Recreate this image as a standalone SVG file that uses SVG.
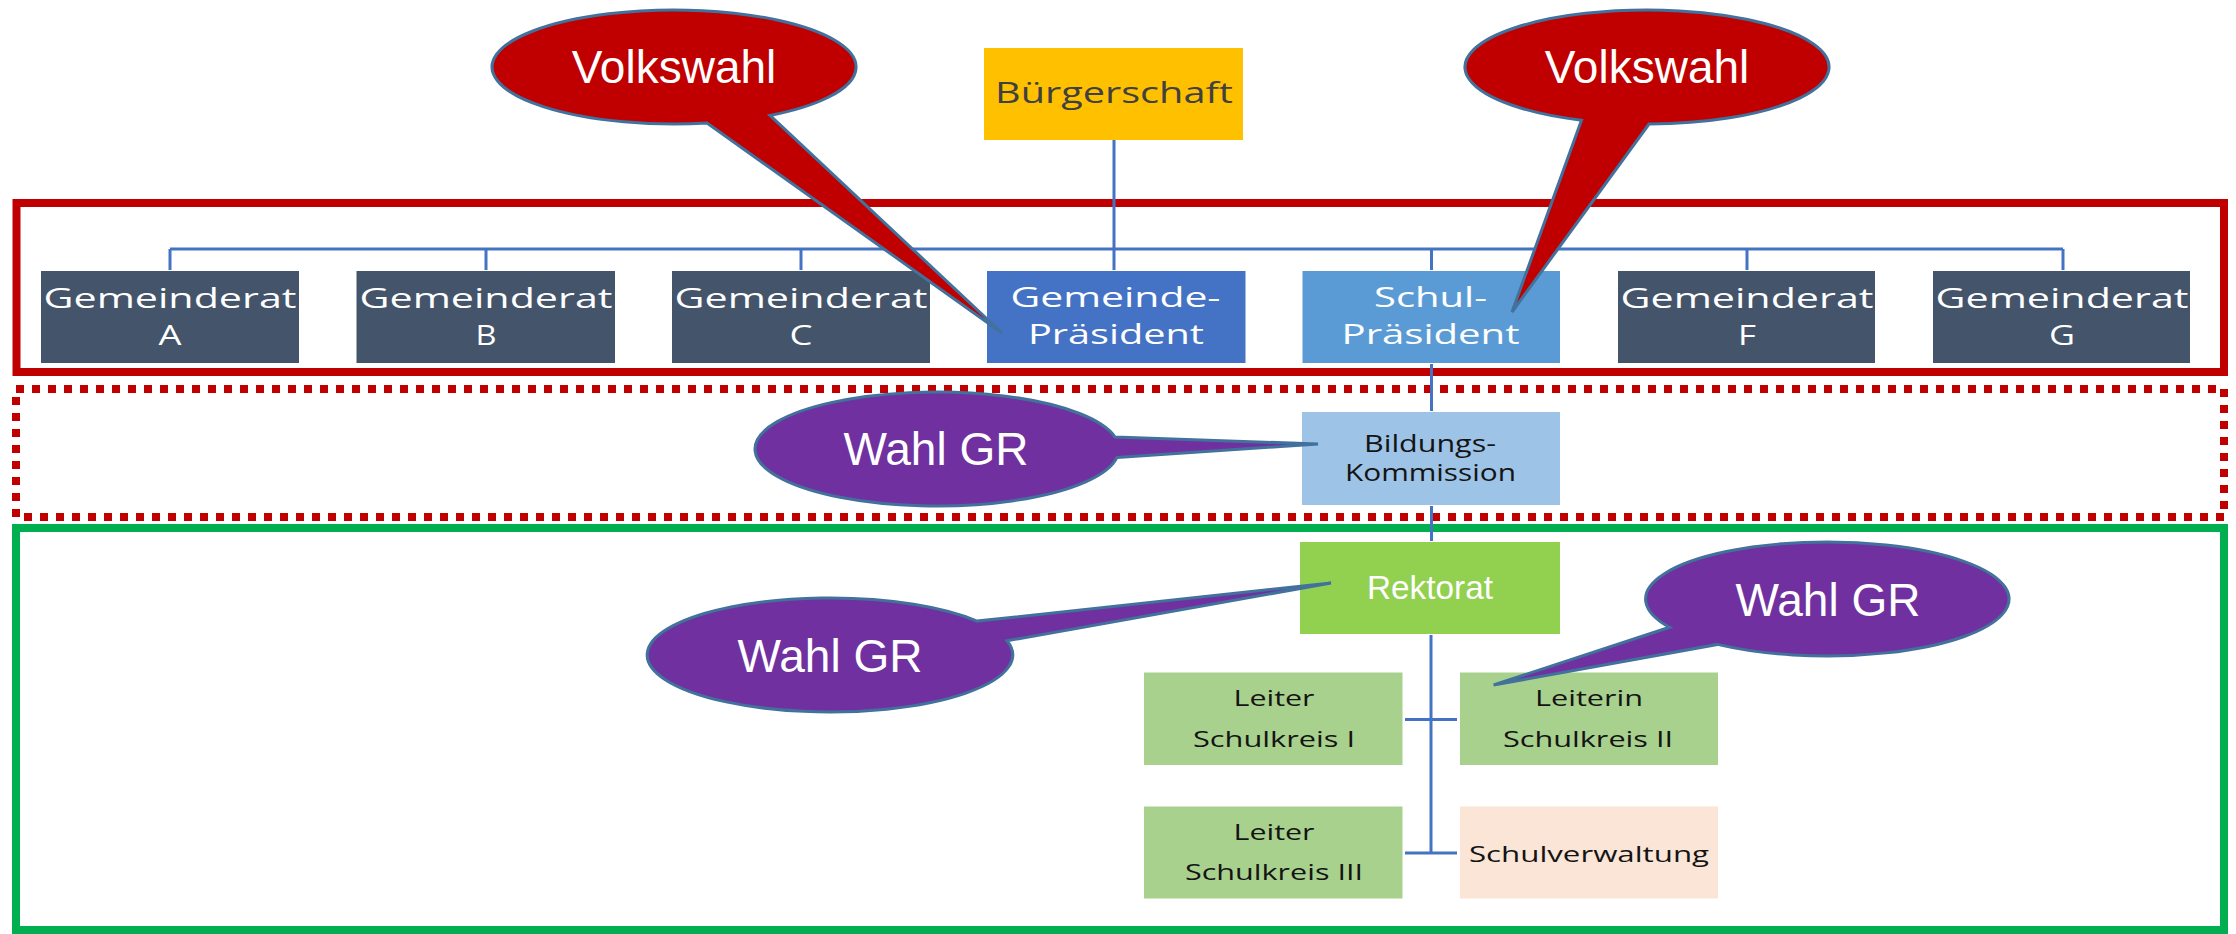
<svg xmlns="http://www.w3.org/2000/svg" width="2236" height="934" viewBox="0 0 2236 934">
<style>
.frame{fill:none;stroke-width:8}
.conn{fill:none;stroke:#4472C4;stroke-width:3}
.t{font-family:"Open Sans","Noto Sans","DejaVu Sans",sans-serif;text-anchor:middle}
.w{fill:#FFFFFF}
.k{fill:#141414}
.co{stroke:#41719C;stroke-width:3;stroke-linejoin:miter}
.ct{font-family:"Liberation Sans",Arial,Helvetica,sans-serif;font-size:46px;fill:#FFFFFF;text-anchor:middle}
</style>
<rect width="2236" height="934" fill="#FFFFFF"/>
<g id="frames">
<rect class="frame" x="16.5" y="203" width="2207.5" height="169" stroke="#C00000"/>
<rect class="frame" x="16" y="389" width="2208" height="128" stroke="#C00000" stroke-dasharray="8 8"/>
<rect class="frame" x="16" y="528" width="2208" height="402" stroke="#00B050"/>
</g>
<g id="connectors">
<path class="conn" d="M1114,140 V270 M170,249 H2063 M170,249 V270 M486,249 V270 M801,249 V270 M1431.5,249 V270 M1747,249 V270 M2063,249 V270"/>
<path class="conn" d="M1431.5,364 V411 M1431.5,506 V541 M1431,635 V853 M1405,719.5 H1457 M1405,853 H1457"/>
</g>
<g id="buergerschaft">
<rect x="984" y="48" width="259" height="92" fill="#FFC000"/>
<text class="t" x="1114" y="103" font-size="30" fill="#404040" textLength="238" lengthAdjust="spacingAndGlyphs">Bürgerschaft</text>
</g>
<g id="gemeinderat-a">
<rect x="41" y="271" width="258" height="92" fill="#44546A"/>
<text class="t w" x="170" y="308" font-size="28" textLength="253" lengthAdjust="spacingAndGlyphs">Gemeinderat</text>
<text class="t w" x="170" y="345" font-size="28" textLength="23" lengthAdjust="spacingAndGlyphs">A</text>
</g>
<g id="gemeinderat-b">
<rect x="356.5" y="271" width="258.5" height="92" fill="#44546A"/>
<text class="t w" x="486" y="308" font-size="28" textLength="253" lengthAdjust="spacingAndGlyphs">Gemeinderat</text>
<text class="t w" x="486" y="345" font-size="28" textLength="21" lengthAdjust="spacingAndGlyphs">B</text>
</g>
<g id="gemeinderat-c">
<rect x="672" y="271" width="258" height="92" fill="#44546A"/>
<text class="t w" x="801" y="308" font-size="28" textLength="253" lengthAdjust="spacingAndGlyphs">Gemeinderat</text>
<text class="t w" x="801" y="345" font-size="28" textLength="23" lengthAdjust="spacingAndGlyphs">C</text>
</g>
<g id="gemeinde-praesident">
<rect x="987" y="271" width="258.5" height="92" fill="#4472C4"/>
<text class="t w" x="1115.5" y="307" font-size="28" textLength="210" lengthAdjust="spacingAndGlyphs">Gemeinde-</text>
<text class="t w" x="1116" y="344" font-size="28" textLength="176" lengthAdjust="spacingAndGlyphs">Präsident</text>
</g>
<g id="schul-praesident">
<rect x="1302.5" y="271" width="257.5" height="92" fill="#5B9BD5"/>
<text class="t w" x="1430.5" y="307" font-size="28" textLength="113" lengthAdjust="spacingAndGlyphs">Schul-</text>
<text class="t w" x="1430.5" y="344" font-size="28" textLength="178" lengthAdjust="spacingAndGlyphs">Präsident</text>
</g>
<g id="gemeinderat-f">
<rect x="1618" y="271" width="257" height="92" fill="#44546A"/>
<text class="t w" x="1747" y="308" font-size="28" textLength="253" lengthAdjust="spacingAndGlyphs">Gemeinderat</text>
<text class="t w" x="1747" y="345" font-size="28" textLength="18" lengthAdjust="spacingAndGlyphs">F</text>
</g>
<g id="gemeinderat-g">
<rect x="1933" y="271" width="257" height="92" fill="#44546A"/>
<text class="t w" x="2062" y="308" font-size="28" textLength="253" lengthAdjust="spacingAndGlyphs">Gemeinderat</text>
<text class="t w" x="2062" y="345" font-size="28" textLength="26" lengthAdjust="spacingAndGlyphs">G</text>
</g>
<g id="bildungskommission">
<rect x="1302" y="412" width="258" height="93" fill="#9DC3E6"/>
<text class="t k" x="1430" y="452" font-size="23" textLength="132" lengthAdjust="spacingAndGlyphs">Bildungs-</text>
<text class="t k" x="1430.5" y="481" font-size="23" textLength="171" lengthAdjust="spacingAndGlyphs">Kommission</text>
</g>
<g id="rektorat">
<rect x="1300" y="542" width="260" height="92" fill="#92D050"/>
<text x="1430" y="599" font-family="Liberation Sans,Arial,sans-serif" font-size="34" fill="#FFFFFF" text-anchor="middle" textLength="126" lengthAdjust="spacingAndGlyphs">Rektorat</text>
</g>
<g id="leiter-schulkreis-1">
<rect x="1144" y="672.5" width="258.5" height="92.5" fill="#A9D18E"/>
<text class="t k" x="1274" y="706" font-size="22" textLength="81" lengthAdjust="spacingAndGlyphs">Leiter</text>
<text class="t k" x="1274" y="747" font-size="22" textLength="162" lengthAdjust="spacingAndGlyphs">Schulkreis I</text>
</g>
<g id="leiterin-schulkreis-2">
<rect x="1460" y="672.5" width="258" height="92.5" fill="#A9D18E"/>
<text class="t k" x="1589" y="706" font-size="22" textLength="108" lengthAdjust="spacingAndGlyphs">Leiterin</text>
<text class="t k" x="1588" y="747" font-size="22" textLength="170" lengthAdjust="spacingAndGlyphs">Schulkreis II</text>
</g>
<g id="leiter-schulkreis-3">
<rect x="1144" y="806.5" width="258.5" height="92" fill="#A9D18E"/>
<text class="t k" x="1274" y="840" font-size="22" textLength="81" lengthAdjust="spacingAndGlyphs">Leiter</text>
<text class="t k" x="1274" y="880" font-size="22" textLength="178" lengthAdjust="spacingAndGlyphs">Schulkreis III</text>
</g>
<g id="schulverwaltung">
<rect x="1460" y="806.5" width="258" height="92" fill="#FBE5D6"/>
<text class="t k" x="1589" y="862" font-size="22" textLength="240" lengthAdjust="spacingAndGlyphs">Schulverwaltung</text>
</g>
<g id="callout-volkswahl-1">
<path class="co" fill="#C00000" d="M770,115.43 A182,57 0 1 0 707,123.05 L1002,333 Z"/>
<text class="ct" x="674" y="83">Volkswahl</text>
</g>
<g id="callout-volkswahl-2">
<path class="co" fill="#C00000" d="M1649,124 A182,57 0 1 0 1581.5,120.18 L1512,312 Z"/>
<text class="ct" x="1647" y="83">Volkswahl</text>
</g>
<g id="callout-wahl-gr-1">
<path class="co" fill="#7030A0" d="M1117,457.4 A182,57 0 1 1 1115,437.1 L1318,444 Z"/>
<text class="ct" x="936" y="465">Wahl GR</text>
</g>
<g id="callout-wahl-gr-2">
<path class="co" fill="#7030A0" d="M1007,640.8 A182.75,57 0 1 1 977,621.1 L1331,583 Z"/>
<text class="ct" x="830" y="672">Wahl GR</text>
</g>
<g id="callout-wahl-gr-3">
<path class="co" fill="#7030A0" d="M1717.5,644.4 A181.7,57 0 1 0 1669.6,627.3 L1493.6,685 Z"/>
<text class="ct" x="1828" y="616">Wahl GR</text>
</g>
</svg>
